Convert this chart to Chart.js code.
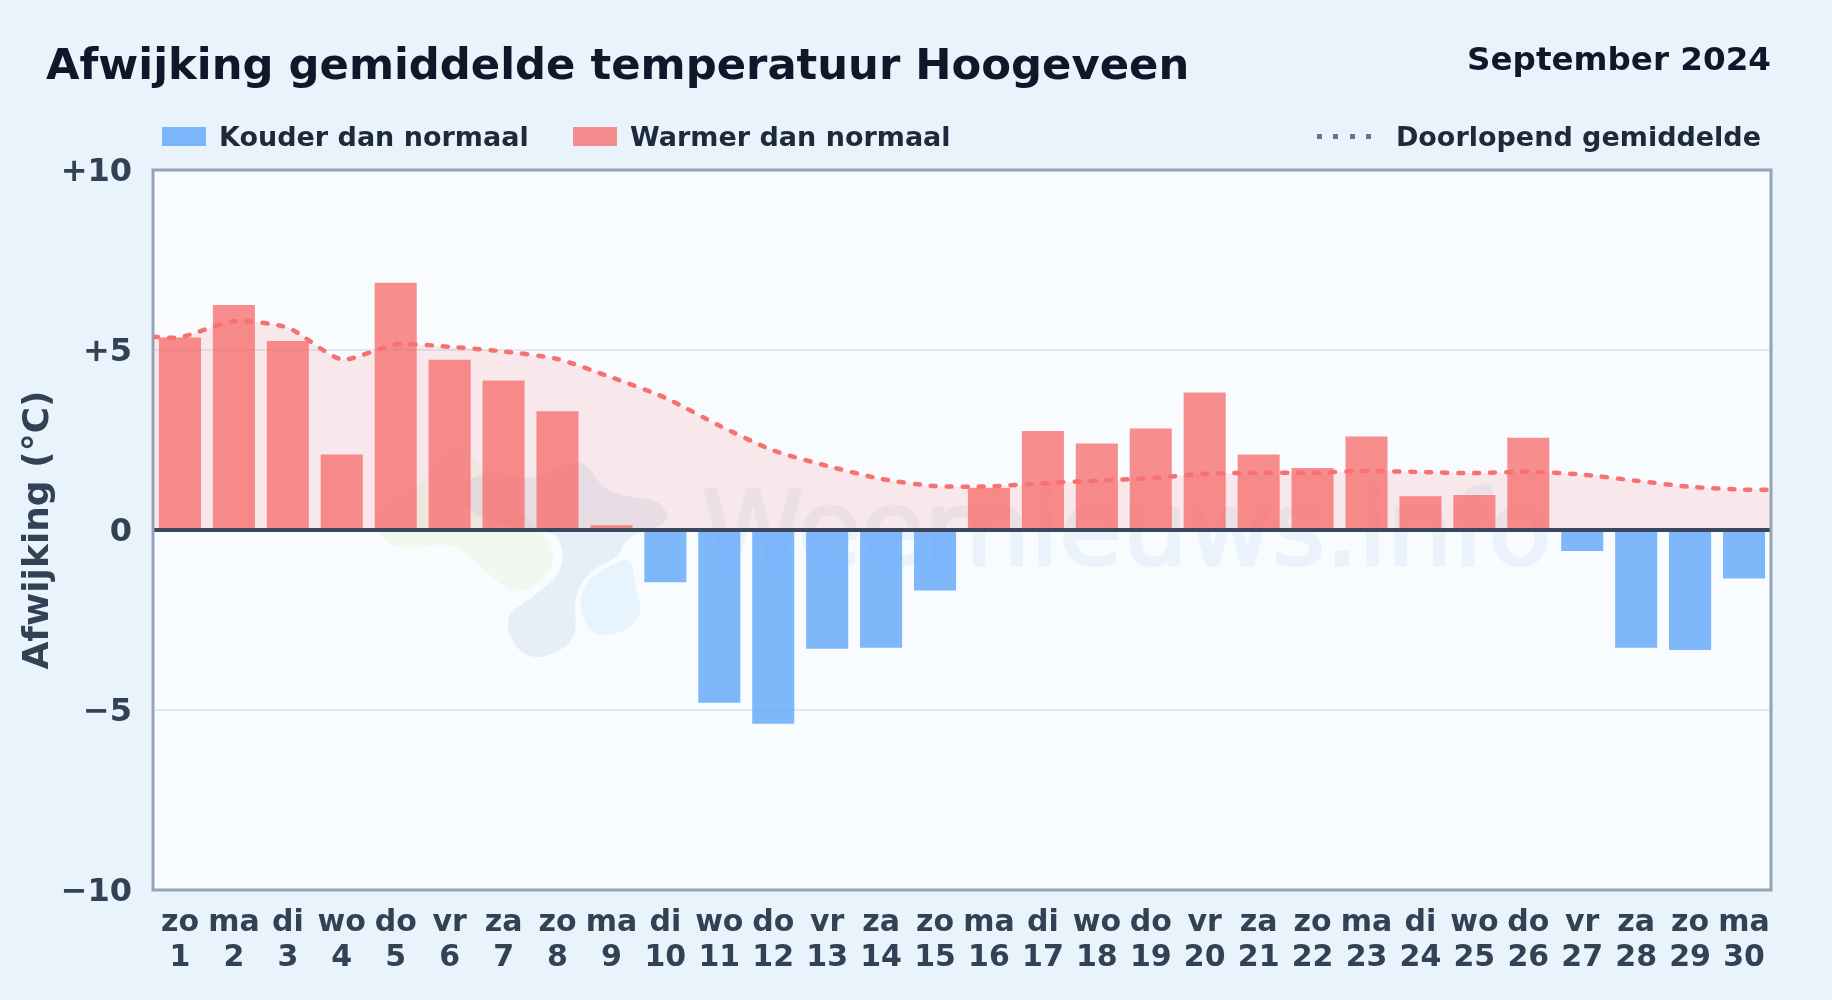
<!DOCTYPE html>
<html lang="nl">
<head>
<meta charset="utf-8">
<title>Afwijking gemiddelde temperatuur Hoogeveen</title>
<script src="https://cdn.jsdelivr.net/npm/chart.js@4"></script>
<style>
  html, body { margin: 0; padding: 0; background: #e9f3fc; overflow: hidden; }
  body { width: 1832px; height: 1000px; position: relative; font-family: "DejaVu Sans", sans-serif; font-weight: bold; }
  canvas { position: absolute; left: 0; top: 0; }
  .label { position: absolute; white-space: nowrap; line-height: 1; }
  #title { left: 46px; top: 43px; font-size: 43.3px; color: #0f172a; }
  #period { right: 61px; top: 43px; font-size: 32.6px; color: #0f172a; }
  .legend-text { top: 123px; font-size: 27px; color: #1e293b; }
  .swatch { position: absolute; top: 127px; width: 44px; height: 19px; }
  #dots { position: absolute; left: 1317px; top: 134px; width: 60px; height: 5px;
          background: repeating-linear-gradient(to right, #64748b 0 5px, transparent 5px 16.5px); }
</style>
</head>
<body>
<canvas id="chart" width="1832" height="1000"></canvas>
<div class="label" id="title">Afwijking gemiddelde temperatuur Hoogeveen</div>
<div class="label" id="period">September 2024</div>
<div class="swatch" style="left:162px;background:rgba(96,165,250,0.8)"></div>
<div class="label legend-text" style="left:219px">Kouder dan normaal</div>
<div class="swatch" style="left:573px;background:rgba(248,113,113,0.8)"></div>
<div class="label legend-text" style="left:630px">Warmer dan normaal</div>
<div id="dots"></div>
<div class="label legend-text" style="right:71px">Doorlopend gemiddelde</div>
<script>
// weekdagen en dagnummers (x-as)
var weekDays = ['zo','ma','di','wo','do','vr','za','zo','ma','di','wo','do','vr','za','zo','ma','di','wo','do','vr','za','zo','ma','di','wo','do','vr','za','zo','ma'];
var dayNumbers = ['1','2','3','4','5','6','7','8','9','10','11','12','13','14','15','16','17','18','19','20','21','22','23','24','25','26','27','28','29','30'];

// afwijking per dag (°C)
var deviation = [5.35, 6.25, 5.25, 2.1, 6.87, 4.73, 4.15, 3.3, 0.13, -1.45, -4.8, -5.38, -3.3, -3.27, -1.68, 1.17, 2.75, 2.4, 2.82, 3.82, 2.1, 1.72, 2.6, 0.94, 0.97, 2.56, -0.58, -3.27, -3.33, -1.35];

// doorlopend gemiddelde, loopt door tot aan de randen van de grafiek
var runningX = [0.5, 1, 2, 3, 4, 5, 6, 7, 8, 9, 10, 11, 12, 13, 14, 15, 16, 17, 18, 19, 20, 21, 22, 23, 24, 25, 26, 27, 28, 29, 30, 30.5];
var runningY = [5.37, 5.35, 5.8, 5.62, 4.74, 5.16, 5.09, 4.96, 4.75, 4.24, 3.67, 2.9, 2.21, 1.78, 1.42, 1.22, 1.21, 1.3, 1.37, 1.44, 1.56, 1.59, 1.59, 1.64, 1.61, 1.58, 1.62, 1.54, 1.37, 1.2, 1.12, 1.12];

// y-as
var yTicks = {'10': '+10', '5': '+5', '0': '0', '-5': '\u22125', '-10': '\u221210'};

var colorCold = 'rgba(96, 165, 250, 0.8)';
var colorWarm = 'rgba(248, 113, 113, 0.8)';

// vloeiende gesloten vorm door punten (watermerk-logo)
function blob(ctx, pts, fill) {
  ctx.beginPath();
  var n = pts.length;
  ctx.moveTo((pts[n - 1][0] + pts[0][0]) / 2, (pts[n - 1][1] + pts[0][1]) / 2);
  for (var i = 0; i < n; i++) {
    var next = pts[(i + 1) % n];
    ctx.quadraticCurveTo(pts[i][0], pts[i][1], (pts[i][0] + next[0]) / 2, (pts[i][1] + next[1]) / 2);
  }
  ctx.closePath();
  ctx.fillStyle = fill;
  ctx.fill();
}

// achtergrond van het plotvlak + watermerk
var plotBackground = {
  id: 'plotBackground',
  afterLayout: function(chart) {
    // y-labels staan iets lager dan de gridlijn
    chart.scales.y.getLabelItems().forEach(function(item) { item.options.translation[1] += 3; });
  },
  beforeDraw: function(chart) {
    var ctx = chart.ctx, a = chart.chartArea;
    ctx.save();
    ctx.fillStyle = '#f8fcff';
    ctx.fillRect(a.left, a.top, a.right - a.left, a.bottom - a.top);
    blob(ctx, [[372,532],[403,552],[450,541],[480,565],[517,600],[560,565],[540,525],[500,500],[470,450],[440,450],[420,490],[385,500]], 'rgba(190, 220, 130, 0.12)');
    blob(ctx, [[560,533],[565,570],[533,597],[503,617],[517,652],[542,660],[578,640],[573,597],[590,570],[620,557],[625,537],[672,523],[660,500],[627,497],[600,487],[583,455],[527,483],[493,470],[460,483],[470,517],[527,530]], 'rgba(60, 110, 170, 0.09)');
    blob(ctx, [[578,590],[585,630],[612,638],[644,618],[634,580],[632,556],[606,566]], 'rgba(100, 180, 240, 0.1)');
    ctx.font = '103px "DejaVu Sans"';
    ctx.fillStyle = '#eaf3fb';
    ctx.strokeStyle = '#eaf3fb';
    ctx.lineWidth = 3;
    ctx.textBaseline = 'alphabetic';
    ctx.fillText('Weernieuws.info', 702, 565);
    ctx.strokeText('Weernieuws.info', 702, 565);
    ctx.restore();
  },
  afterDatasetsDraw: function(chart) {
    var ctx = chart.ctx, a = chart.chartArea;
    var zero = chart.scales.y.getPixelForValue(0);
    ctx.save();
    ctx.strokeStyle = '#3b475c';
    ctx.lineWidth = 4;
    ctx.beginPath();
    ctx.moveTo(a.left, zero);
    ctx.lineTo(a.right, zero);
    ctx.stroke();
    ctx.strokeStyle = '#94a3b8';
    ctx.lineWidth = 3;
    ctx.strokeRect(a.left, a.top, a.right - a.left, a.bottom - a.top);
    ctx.restore();
  }
};

new Chart(document.getElementById('chart').getContext('2d'), {
  data: {
    labels: weekDays.map(function(d, i) { return [d, dayNumbers[i]]; }),
    datasets: [
      {
        type: 'line',
        label: 'Doorlopend gemiddelde',
        data: runningX.map(function(x, i) { return { x: x, y: runningY[i] }; }),
        xAxisID: 'x2',
        borderColor: '#f87171',
        backgroundColor: 'rgba(248, 113, 113, 0.14)',
        borderWidth: 4.5,
        borderDash: [5, 11],
        borderCapStyle: 'round',
        pointRadius: 0,
        tension: 0.22,
        fill: { value: 0 },
        order: 1
      },
      {
        type: 'bar',
        label: 'Afwijking',
        data: deviation,
        xAxisID: 'x',
        backgroundColor: function(c) { return c.raw < 0 ? colorCold : colorWarm; },
        grouped: false,
        barPercentage: 0.78,
        categoryPercentage: 1,
        order: 2
      }
    ]
  },
  options: {
    responsive: false,
    animation: false,
    layout: { padding: { left: 17, right: 61, top: 170, bottom: 0 } },
    plugins: {
      legend: { display: false },
      tooltip: { enabled: false },
      filler: { drawTime: 'beforeDatasetsDraw' }
    },
    scales: {
      x: {
        type: 'category',
        grid: { display: false },
        border: { display: false },
        afterFit: function(scale) { scale.height = 110; },
        ticks: {
          autoSkip: false,
          maxRotation: 0,
          minRotation: 0,
          padding: 8,
          color: '#334155',
          font: { family: '"DejaVu Sans"', size: 30, weight: 'bold', lineHeight: 1.15 }
        }
      },
      x2: { type: 'linear', axis: 'x', display: false, min: 0.5, max: 30.5 },
      y: {
        min: -10,
        max: 10,
        afterFit: function(scale) { scale.width = 136; },
        grid: {
          drawTicks: false,
          lineWidth: 2,
          color: function(c) { return Math.abs(c.tick.value) === 5 ? '#e2e8f0' : 'transparent'; }
        },
        border: { display: false },
        ticks: {
          stepSize: 5,
          padding: 21,
          color: '#334155',
          font: { family: '"DejaVu Sans"', size: 32, weight: 'bold' },
          callback: function(v) { return yTicks[String(v)]; }
        },
        title: {
          display: true,
          text: 'Afwijking (\u00b0C)',
          color: '#334155',
          padding: 0,
          font: { family: '"DejaVu Sans"', size: 36, weight: 'bold' }
        }
      }
    }
  },
  plugins: [plotBackground]
});
</script>
</body>
</html>
